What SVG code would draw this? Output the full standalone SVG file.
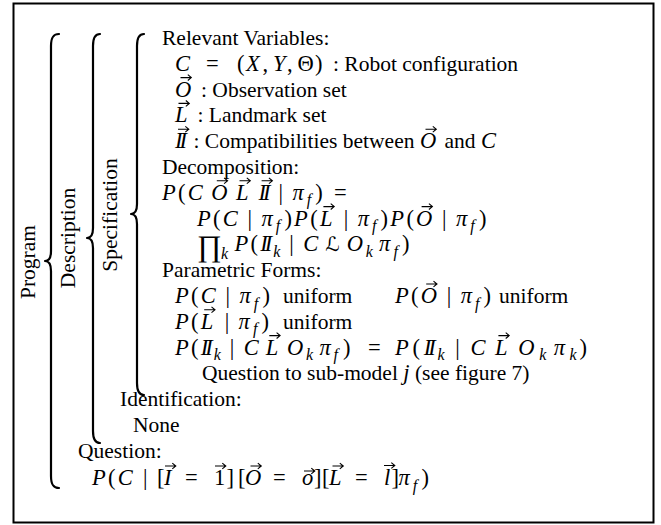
<svg xmlns="http://www.w3.org/2000/svg" width="661" height="525" viewBox="0 0 661 525">
<defs>
<style>
.t{font-family:"Liberation Serif","Times New Roman",serif;font-size:21.5px;fill:#000}
.m{font-style:italic;font-size:22.5px}
.u{font-size:22.5px}
.sb{font-style:italic;font-size:16px}
.cal{font-family:"DejaVu Serif","DejaVu Sans",serif;font-style:italic;font-size:20px}
.br{fill:none;stroke:#000;stroke-width:2.2;stroke-linecap:round;stroke-linejoin:round}
.frame{fill:#fff;stroke:#000;stroke-width:2}
</style>
<path id="v" d="M0,0H10.5M7.3,-2.9L10.8,0L7.3,2.9" fill="none" stroke="#000" stroke-width="1.1"/>
</defs>
<rect class="frame" x="13.5" y="3.5" width="640" height="519"/>

<g id="braces">
<path class="br" d="M59,34 C53,34 51,38 51,46 L51,251 C51,257 49,261 45,261 C49,261 51,265 51,271 L51,476 C51,484 53,488 59,488"/>
<path class="br" d="M100,34 C95,34 93,38 93,46 L93,228 C93,234 91,238 87,238 C91,238 93,242 93,248 L93,431 C93,439 95,443 100,443"/>
<path class="br" d="M144,34 C139,34 137,38 137,46 L137,204 C137,210 135,214 131,214 C135,214 137,218 137,224 L137,383 C137,391 139,395 144,395"/>
</g>

<g id="labels" class="t">
<text transform="translate(35,262) rotate(-90)" text-anchor="middle">Program</text>
<text transform="translate(75,238) rotate(-90)" text-anchor="middle">Description</text>
<text transform="translate(117,215) rotate(-90)" text-anchor="middle">Specification</text>
</g>

<g id="relevant-variables" class="t">
<text x="162" y="45">Relevant Variables:</text>
<text y="70.8"><tspan x="175" class="m">C</tspan><tspan x="206" class="u">=</tspan><tspan x="237" class="u">(</tspan><tspan x="246" class="m">X</tspan><tspan x="262.5" class="u">,</tspan><tspan x="273" class="m">Y</tspan><tspan x="287" class="u">,</tspan><tspan x="297.5" class="u">Θ</tspan><tspan x="315" class="u">)</tspan><tspan x="333">: Robot configuration</tspan></text>
<text y="96.6"><tspan x="175" class="m">O</tspan><tspan x="201">: Observation set</tspan></text>
<use href="#v" x="180.5" y="77.6"/>
<text y="122.4"><tspan x="175" class="m">L</tspan><tspan x="197.5">: Landmark set</tspan></text>
<use href="#v" x="178.5" y="103.4"/>
<text y="148.2"><tspan x="175" class="m">I</tspan><tspan x="179.5" class="m">I</tspan><tspan x="193.5">: Compatibilities between</tspan><tspan x="420" class="m">O</tspan><tspan x="444.4">and</tspan><tspan x="480.9" class="m">C</tspan></text>
<use href="#v" x="178" y="129.2"/>
<use href="#v" x="425.5" y="129.2"/>
</g>

<g id="decomposition" class="t">
<text x="162" y="174">Decomposition:</text>
<text y="199.8"><tspan x="162" class="m">P</tspan><tspan x="178" class="u">(</tspan><tspan x="187.8" class="m">C</tspan><tspan x="211.3" class="m">O</tspan><tspan x="236" class="m">L</tspan><tspan x="258.6" class="m">I</tspan><tspan x="263.1" class="m">I</tspan><tspan x="278.5" class="u">|</tspan><tspan x="292.4" class="m">π</tspan><tspan x="306.7" dy="5.5" class="sb">f</tspan><tspan x="315.3" dy="-5.5" class="u">)</tspan><tspan x="334" class="u">=</tspan></text>
<use href="#v" x="216.8" y="180.8"/>
<use href="#v" x="239.5" y="180.8"/>
<use href="#v" x="261.6" y="180.8"/>
<text y="225.6"><tspan x="197" class="m">P</tspan><tspan x="213" class="u">(</tspan><tspan x="222.7" class="m">C</tspan><tspan x="247.6" class="u">|</tspan><tspan x="261.5" class="m">π</tspan><tspan x="275.8" dy="5.5" class="sb">f</tspan><tspan x="284.4" dy="-5.5" class="u">)</tspan><tspan x="294.1" class="m">P</tspan><tspan x="310.2" class="u">(</tspan><tspan x="319.9" class="m">L</tspan><tspan x="343.8" class="u">|</tspan><tspan x="357.7" class="m">π</tspan><tspan x="372" dy="5.5" class="sb">f</tspan><tspan x="380.6" dy="-5.5" class="u">)</tspan><tspan x="390.3" class="m">P</tspan><tspan x="406.4" class="u">(</tspan><tspan x="416.1" class="m">O</tspan><tspan x="442.1" class="u">|</tspan><tspan x="456" class="m">π</tspan><tspan x="470.3" dy="5.5" class="sb">f</tspan><tspan x="478.9" dy="-5.5" class="u">)</tspan></text>
<use href="#v" x="323.4" y="206.6"/>
<use href="#v" x="421.6" y="206.6"/>
<text y="251.4"><tspan x="197" y="256.4" style="font-size:30px">∏</tspan><tspan x="221" y="259.4" class="sb">k</tspan><tspan x="234.5" y="251.4" class="m">P</tspan><tspan x="250.5" class="u">(</tspan><tspan x="260.2" class="m">I</tspan><tspan x="264.7" class="m">I</tspan><tspan x="273.2" dy="5.5" class="sb">k</tspan><tspan x="289.3" dy="-5.5" class="u">|</tspan><tspan x="303.2" class="m">C</tspan><tspan x="325.3" class="cal">ℒ</tspan><tspan x="346.7" class="m">O</tspan><tspan x="365.8" dy="5.5" class="sb">k</tspan><tspan x="379.1" dy="-5.5" class="m">π</tspan><tspan x="393.4" dy="5.5" class="sb">f</tspan><tspan x="402" dy="-5.5" class="u">)</tspan></text>
</g>

<g id="parametric-forms" class="t">
<text x="162" y="277.2">Parametric Forms:</text>
<text y="303"><tspan x="175" class="m">P</tspan><tspan x="191" class="u">(</tspan><tspan x="200.7" class="m">C</tspan><tspan x="225.6" class="u">|</tspan><tspan x="239.5" class="m">π</tspan><tspan x="253.8" dy="5.5" class="sb">f</tspan><tspan x="262.4" dy="-5.5" class="u">)</tspan><tspan x="283">uniform</tspan><tspan x="395" class="m">P</tspan><tspan x="411" class="u">(</tspan><tspan x="420.7" class="m">O</tspan><tspan x="446.8" class="u">|</tspan><tspan x="460.7" class="m">π</tspan><tspan x="475" dy="5.5" class="sb">f</tspan><tspan x="483.6" dy="-5.5" class="u">)</tspan><tspan x="499">uniform</tspan></text>
<use href="#v" x="426.2" y="284"/>
<text y="328.8"><tspan x="175" class="m">P</tspan><tspan x="191" class="u">(</tspan><tspan x="200.7" class="m">L</tspan><tspan x="224.7" class="u">|</tspan><tspan x="238.6" class="m">π</tspan><tspan x="252.9" dy="5.5" class="sb">f</tspan><tspan x="261.5" dy="-5.5" class="u">)</tspan><tspan x="283">uniform</tspan></text>
<use href="#v" x="204.2" y="309.8"/>
<text y="354.6"><tspan x="175" class="m">P</tspan><tspan x="191" class="u">(</tspan><tspan x="200.7" class="m">I</tspan><tspan x="205.2" class="m">I</tspan><tspan x="213.7" dy="5.5" class="sb">k</tspan><tspan x="229.8" dy="-5.5" class="u">|</tspan><tspan x="243.7" class="m">C</tspan><tspan x="265.8" class="m">L</tspan><tspan x="287" class="m">O</tspan><tspan x="306.1" dy="5.5" class="sb">k</tspan><tspan x="319.4" dy="-5.5" class="m">π</tspan><tspan x="333.6" dy="5.5" class="sb">f</tspan><tspan x="343" dy="-5.5" class="u">)</tspan><tspan x="368" class="u">=</tspan><tspan x="395" class="m">P</tspan><tspan x="412.6" class="u">(</tspan><tspan x="423.7" class="m">I</tspan><tspan x="428.2" class="m">I</tspan><tspan x="437.6" dy="5.5" class="sb">k</tspan><tspan x="455.3" dy="-5.5" class="u">|</tspan><tspan x="470.6" class="m">C</tspan><tspan x="494.9" class="m">L</tspan><tspan x="518.2" class="m">O</tspan><tspan x="539.2" dy="5.5" class="sb">k</tspan><tspan x="553.8" dy="-5.5" class="m">π</tspan><tspan x="569.5" dy="5.5" class="sb">k</tspan><tspan x="579.5" dy="-5.5" class="u">)</tspan></text>
<use href="#v" x="269.3" y="335.6"/>
<use href="#v" x="498.4" y="335.6"/>
<text x="202" y="380.4">Question to sub-model <tspan class="m">j</tspan> (see figure 7)</text>
</g>

<g id="identification" class="t">
<text x="120" y="406.2">Identification:</text>
<text x="133" y="432">None</text>
</g>

<g id="question" class="t">
<text x="78" y="457.8">Question:</text>
<text y="485"><tspan x="92" class="m">P</tspan><tspan x="108" class="u">(</tspan><tspan x="117.7" class="m">C</tspan><tspan x="143" class="u">|</tspan><tspan x="157" class="u">[</tspan><tspan x="164" class="m">I</tspan><tspan x="185" class="u">=</tspan><tspan x="214" class="u">1</tspan><tspan x="226.5" class="u">]</tspan><tspan x="238" class="u">[</tspan><tspan x="245" class="m">O</tspan><tspan x="273" class="u">=</tspan><tspan x="302" class="m">o</tspan><tspan x="314" class="u">]</tspan><tspan x="322" class="u">[</tspan><tspan x="329" class="m">L</tspan><tspan x="355" class="u">=</tspan><tspan x="384" class="m">l</tspan><tspan x="391.5" class="u">]</tspan><tspan x="398.5" class="m">π</tspan><tspan x="412.8" dy="5.5" class="sb">f</tspan><tspan x="421.4" dy="-5.5" class="u">)</tspan></text>
<use href="#v" x="165" y="466"/>
<use href="#v" x="215" y="466"/>
<use href="#v" x="250.5" y="466"/>
<use href="#v" x="304" y="471"/>
<use href="#v" x="332.5" y="466"/>
<use href="#v" x="384" y="465.5"/>
</g>
</svg>
